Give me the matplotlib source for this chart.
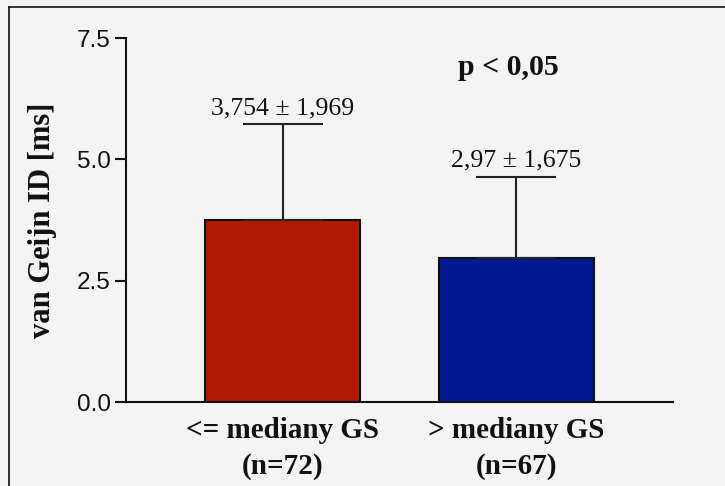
import matplotlib.pyplot as plt
from matplotlib.lines import Line2D

groups = ["<= mediany GS\n(n=72)", "> mediany GS\n(n=67)"]
means = [3.754, 2.97]
sds = [1.969, 1.675]
colors = ["#B01A00", "#001890"]
yticks = [0.0, 2.5, 5.0, 7.5]
p_text = "p < 0,05"

BG = "#F4F4F4"


def fmt(v):
    return f"{v:g}".replace(".", ",")


fig = plt.figure(figsize=(7.25, 4.86), dpi=100, facecolor=BG)
ax = fig.add_axes([0.1738, 0.1728, 0.7545, 0.749])
ax.set_facecolor(BG)

x = list(range(len(means)))
ax.bar(x, means, width=0.665, color=colors, edgecolor="#111111", linewidth=1.5,
       yerr=[[0] * len(sds), sds], capsize=28.8,
       error_kw=dict(ecolor="#222222", elinewidth=1.5, capthick=1.5), zorder=2)

for xi, m, s in zip(x, means, sds):
    ax.annotate(f"{fmt(m)} \u00b1 {fmt(s)}", xy=(xi, m + s), xytext=(0, 3.5),
                textcoords="offset points", ha="center", va="bottom",
                family="Liberation Serif", fontsize=18.5, color="#111111")

ax.text(0.965, 6.9, p_text, ha="center", va="center", family="Liberation Serif",
        fontweight="bold", fontsize=21.5, color="#111111")

ax.set_xlim(-0.67, 1.67)
ax.set_ylim(0, 7.5)
ax.set_yticks(yticks)
ax.set_yticklabels([f"{t:.1f}" for t in yticks], family="Liberation Sans", fontsize=17.5)
ax.set_xticks(x)
ax.set_xticklabels(groups, family="Liberation Serif", fontweight="bold", fontsize=21,
                   linespacing=1.4)
ax.tick_params(axis="y", length=8, width=1.5, pad=3, colors="#111111")
ax.tick_params(axis="x", length=0, pad=11, colors="#111111")
ax.set_ylabel("van Geijn ID [ms]", family="Liberation Serif", fontweight="bold",
              fontsize=22, labelpad=14, color="#111111")

for side in ["top", "right"]:
    ax.spines[side].set_visible(False)
for side in ["left", "bottom"]:
    ax.spines[side].set_linewidth(1.5)
    ax.spines[side].set_color("#111111")

# outer frame: left and top edges
fig.add_artist(Line2D([0.0124, 0.0124], [0, 1 - 7 / 486], transform=fig.transFigure,
                      color="#111111", linewidth=1.2))
fig.add_artist(Line2D([0.0124, 1], [1 - 7 / 486, 1 - 7 / 486], transform=fig.transFigure,
                      color="#111111", linewidth=1.2))

fig.savefig("out.png", dpi=100, facecolor=BG)
